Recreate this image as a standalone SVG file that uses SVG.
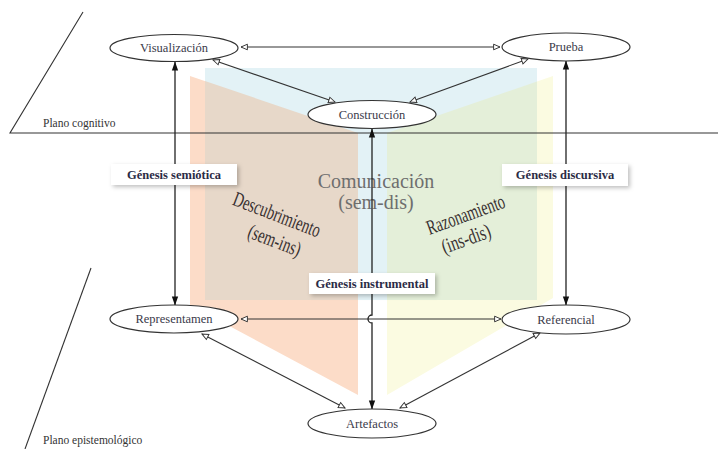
<svg xmlns="http://www.w3.org/2000/svg" width="718" height="449" viewBox="0 0 718 449">
<style>
.line{stroke:#333;stroke-width:1.1;fill:none}
.conn{stroke:#333;stroke-width:1.1;fill:none;marker-start:url(#open);marker-end:url(#open)}
.vconn{stroke:#222;stroke-width:1.3;fill:none;marker-start:url(#solid);marker-end:url(#solid)}
.node ellipse{fill:#fff;stroke:#333;stroke-width:1.2}
.node text{font-family:"Liberation Serif",serif;font-size:12.5px;fill:#3a3a4a;text-anchor:middle}
.lbl rect{fill:#fff;filter:url(#sh)}
.lbl text{font-family:"Liberation Serif",serif;font-weight:bold;font-size:12.5px;fill:#2b2b45;text-anchor:middle}
.plane{font-family:"Liberation Serif",serif;font-size:11.5px;fill:#333}
.big{font-family:"Liberation Serif",serif;font-size:21px;fill:#383030;text-anchor:middle}
.com{font-family:"Liberation Serif",serif;font-size:20px;fill:#6e6e6e;text-anchor:middle}
</style>
<defs>
<marker id="open" viewBox="0 0 10 10" refX="9" refY="5" markerWidth="8" markerHeight="8" markerUnits="userSpaceOnUse" orient="auto-start-reverse">
<path d="M1,1.5 L9,5 L1,8.5 Z" fill="#fff" stroke="#333" stroke-width="1.2"/>
</marker>
<marker id="solid" viewBox="0 0 10 10" refX="9.5" refY="5" markerWidth="9" markerHeight="9" markerUnits="userSpaceOnUse" orient="auto-start-reverse">
<path d="M0,1.5 L10,5 L0,8.5 Z" fill="#111"/>
</marker>
<filter id="sh" x="-20%" y="-40%" width="140%" height="200%">
<feDropShadow dx="2" dy="2" stdDeviation="2" flood-color="#000" flood-opacity="0.25"/>
</filter>
</defs>
<g id="background">
<polygon points="190,76 358,133 358,395 190,305" fill="#fcdcc8"/>
<polygon points="387,133 553,76 553,298 387,395" fill="#fbfbe1"/>
<rect x="205" y="68" width="332" height="232" fill="#e3f2f6"/>
<polygon points="205,81 358,133 358,300 205,300" fill="#e7d8c9"/>
<polygon points="387,133 537,81.5 537,300 387,300" fill="#e4efd9"/>
</g>
<g id="planes">
<path class="line" d="M83,12 L10,133 L718,133"/>
<path class="line" d="M91,268 L25,449"/>
<text class="plane" x="43" y="127">Plano cognitivo</text>
<text class="plane" x="43" y="444">Plano epistemológico</text>
</g>
<g id="areas-text">
<text class="com" x="376" y="188">Comunicación</text>
<text class="com" x="376" y="209">(sem-dis)</text>
<g transform="translate(274.5,221) rotate(21)">
<text class="big" x="0" y="0" textLength="92" lengthAdjust="spacingAndGlyphs">Descubrimiento</text>
<text class="big" x="7" y="25" textLength="55" lengthAdjust="spacingAndGlyphs">(sem-ins)</text>
</g>
<g transform="translate(468,221) rotate(-20)">
<text class="big" x="0" y="0" textLength="82" lengthAdjust="spacingAndGlyphs">Razonamiento</text>
<text class="big" x="-8" y="23" textLength="51" lengthAdjust="spacingAndGlyphs">(ins-dis)</text>
</g>
</g>
<g id="connectors">
<line class="conn" x1="241" y1="47" x2="500" y2="47"/>
<line class="conn" x1="213" y1="60" x2="335" y2="102"/>
<line class="conn" x1="528" y1="59" x2="410" y2="102"/>
<line class="conn" x1="241" y1="319" x2="501" y2="319"/>
<line class="conn" x1="202" y1="334" x2="345" y2="408"/>
<line class="conn" x1="540" y1="333" x2="400" y2="408"/>
<line class="vconn" x1="175" y1="62" x2="175" y2="305"/>
<line class="vconn" x1="566" y1="61" x2="566" y2="305"/>
<path class="vconn" d="M372,129 L372,315 A4,4 0 0 0 372,323 L372,409"/>
</g>
<g id="n-visualizacion" class="node"><ellipse cx="174" cy="48" rx="64" ry="13.5"/><text x="174" y="52">Visualización</text></g>
<g id="n-prueba" class="node"><ellipse cx="566" cy="47" rx="64" ry="14"/><text x="566" y="51">Prueba</text></g>
<g id="n-construccion" class="node"><ellipse cx="372" cy="114.5" rx="64" ry="14"/><text x="372" y="118.5">Construcción</text></g>
<g id="n-representamen" class="node"><ellipse cx="174" cy="319" rx="64" ry="14"/><text x="174" y="323">Representamen</text></g>
<g id="n-referencial" class="node"><ellipse cx="566" cy="319.5" rx="64" ry="14.5"/><text x="566" y="323.5">Referencial</text></g>
<g id="n-artefactos" class="node"><ellipse cx="372" cy="423.5" rx="64" ry="14.5"/><text x="372" y="427.5">Artefactos</text></g>
<g id="l-semiotica" class="lbl"><rect x="111" y="164" width="126" height="21"/><text x="174" y="178.5">Génesis semiótica</text></g>
<g id="l-discursiva" class="lbl"><rect x="502" y="164" width="126" height="22"/><text x="565" y="179">Génesis discursiva</text></g>
<g id="l-instrumental" class="lbl"><rect x="309" y="273" width="126" height="21"/><text x="372" y="287.5">Génesis instrumental</text></g>
</svg>
